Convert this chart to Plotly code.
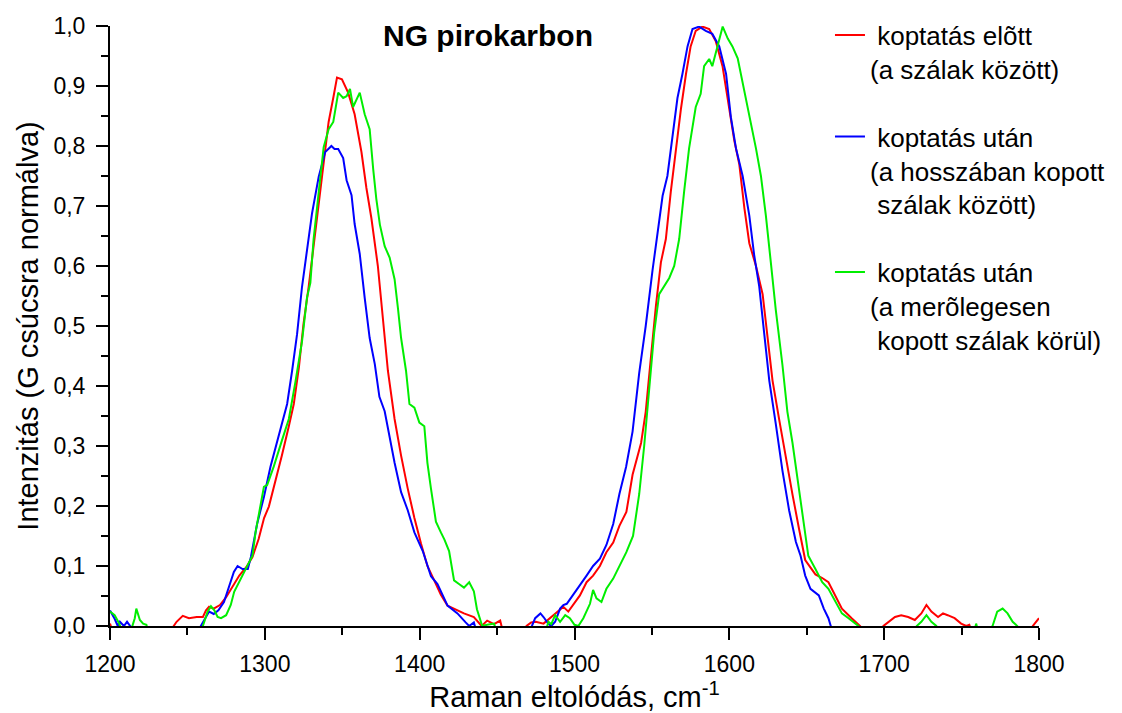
import plotly.graph_objects as go

red_x = [1200, 1202, 1238, 1241, 1243, 1247, 1251, 1256, 1260, 1262, 1264, 1267, 1271, 1275, 1279,
         1283.5, 1288, 1292, 1296, 1299.5, 1302.6, 1307, 1311, 1315.5, 1318.7, 1322, 1325, 1328.3,
         1331.5, 1334.8, 1338, 1341.2, 1344.4, 1346.6, 1349.8, 1353.8, 1358, 1362.4, 1365.6, 1368.8,
         1373, 1376.3, 1379.5, 1383.8, 1388, 1392.3, 1396.6, 1400.9, 1405, 1409.4, 1413.7, 1418, 1424,
         1428.6, 1435, 1438, 1440, 1443.6, 1448, 1452, 1454, 1467, 1469, 1472, 1475, 1480, 1486.4,
         1488.6, 1492.8, 1496, 1499, 1503.5, 1507.8, 1512, 1516.4, 1520.6, 1525, 1529, 1533.5, 1537.5,
         1543, 1546, 1549.4, 1552.6, 1555.8, 1559, 1562.2, 1565.5, 1568.7, 1572, 1575, 1578.3, 1582.6,
         1587, 1591.2, 1595.6, 1600, 1603.2, 1606.4, 1609.7, 1612.9, 1617.2, 1621.5, 1624.7, 1627.9,
         1632.2, 1636.5, 1640.8, 1645, 1649, 1655.6, 1660, 1664, 1668.4, 1672.7, 1679, 1684.5, 1687,
         1697, 1699.5, 1702.7, 1707, 1711, 1715.5, 1719.8, 1724, 1727.3, 1730.5, 1734.8, 1738, 1741,
         1745.5, 1749.7, 1753, 1755, 1757, 1794, 1796, 1800]
red_y = [0.004, -0.012, -0.012, 0.0, 0.007, 0.017, 0.013, 0.015, 0.015, 0.026, 0.032, 0.029, 0.035, 0.048, 0.065,
         0.084, 0.098, 0.115, 0.145, 0.18, 0.199, 0.241, 0.284, 0.333, 0.37, 0.431, 0.504, 0.565,
         0.633, 0.70, 0.773, 0.84, 0.883, 0.914, 0.911, 0.889, 0.853, 0.79, 0.73, 0.68,
         0.60, 0.516, 0.425, 0.345, 0.284, 0.229, 0.18, 0.137, 0.10, 0.076, 0.052, 0.034, 0.027,
         0.021, 0.015, 0.006, 0.0, 0.009, 0.003, 0.009, -0.012, -0.012, 0.0, 0.006, 0.007, 0.004, 0.018,
         0.024, 0.032, 0.024, 0.035, 0.051, 0.073, 0.084, 0.10, 0.123, 0.139, 0.167, 0.19, 0.252,
         0.305, 0.357, 0.449, 0.534, 0.606, 0.645, 0.724, 0.796, 0.861, 0.92, 0.966, 0.992, 0.999,
         0.995, 0.975, 0.933, 0.861, 0.809, 0.77, 0.697, 0.638, 0.60, 0.553, 0.475, 0.409,
         0.344, 0.278, 0.219, 0.162, 0.110, 0.086, 0.08, 0.073, 0.051, 0.029, 0.013, 0.0, -0.012,
         -0.012, 0.0, 0.007, 0.015, 0.018, 0.015, 0.01, 0.021, 0.035, 0.024, 0.015, 0.021, 0.018,
         0.013, 0.004, 0.0, 0.002, -0.012, -0.012, 0.0, 0.013]

blue_x = [1200, 1203, 1205, 1206.4, 1209, 1211, 1213, 1215, 1256, 1258.6, 1260.7, 1264, 1267, 1270, 1273.6,
          1277, 1280, 1282.4, 1285.6, 1289, 1291, 1295, 1299.4, 1303.6, 1309, 1314.4, 1317.6, 1320.8,
          1324, 1327.3, 1330.5, 1334.8, 1339, 1343, 1345, 1347.4, 1350.6, 1352.8, 1356, 1358, 1361.3,
          1364.5, 1367.7, 1371, 1374, 1377.4, 1380.6, 1383.8, 1388, 1392.3, 1396.6, 1402, 1407.3,
          1411.5, 1418, 1424.4, 1429.7, 1432, 1435, 1437, 1470, 1472.5, 1474.6, 1478, 1480, 1483, 1485,
          1487.5, 1490.7, 1492.8, 1495, 1499, 1503.5, 1507.8, 1512, 1516.4, 1520.6, 1525, 1529, 1533.3,
          1537.5, 1541.8, 1546, 1550.4, 1553.6, 1556.9, 1560, 1563.3, 1566.5, 1569.7, 1573, 1576.2,
          1580.5, 1584.8, 1589, 1593.5, 1597.9, 1601, 1604.3, 1608.6, 1612.9, 1616, 1619.3, 1622.5,
          1625.8, 1630, 1634.3, 1638.6, 1643, 1646, 1649, 1652.4, 1657.8, 1661, 1664, 1665.5, 1668, 1800]
blue_y = [0.026, 0.012, 0.0, 0.007, 0.0, 0.007, 0.0, -0.012, -0.012, 0.0, 0.01, 0.024, 0.02, 0.026, 0.04,
          0.065, 0.09, 0.10, 0.095, 0.095, 0.115, 0.17, 0.215, 0.265, 0.32, 0.37, 0.425, 0.486,
          0.565, 0.627, 0.688, 0.749, 0.79, 0.80, 0.795, 0.795, 0.78, 0.743, 0.718, 0.67, 0.62,
          0.547, 0.48, 0.437, 0.382, 0.358, 0.315, 0.272, 0.223, 0.193, 0.156, 0.125, 0.083,
          0.07, 0.034, 0.021, 0.006, 0.0, 0.006, -0.012, -0.012, 0.0, 0.013, 0.021, 0.015, 0.004, 0.0,
          0.007, 0.029, 0.035, 0.037, 0.051, 0.068, 0.084, 0.10, 0.112, 0.135, 0.17, 0.22, 0.265,
          0.324, 0.422, 0.50, 0.593, 0.658, 0.717, 0.75, 0.815, 0.88, 0.92, 0.966, 0.995,
          0.999, 0.992, 0.987, 0.966, 0.92, 0.848, 0.796, 0.75, 0.684, 0.619, 0.566, 0.488,
          0.409, 0.337, 0.259, 0.193, 0.14, 0.117, 0.084, 0.062, 0.051, 0.029, 0.013, 0.0, -0.012, -0.012]

green_x = [1200, 1203, 1206, 1208, 1213, 1215, 1216, 1217, 1219.3, 1221.4, 1223.5, 1225, 1258, 1260, 1261,
           1263, 1265.2, 1267.4, 1269.5, 1271.7, 1275, 1278, 1280.2, 1283.4, 1286.6, 1289.8, 1292, 1294,
           1299.4, 1301.5, 1305.8, 1311, 1315.5, 1319.7, 1324, 1327.2, 1329.4, 1331.5, 1334.8, 1338,
           1341.2, 1344.2, 1347.4, 1350.6, 1352.8, 1355, 1357, 1359.2, 1361.3, 1364.5, 1367.7, 1370, 1372,
           1374.3, 1377.4, 1380.6, 1383.8, 1386, 1388, 1391.2, 1393.4, 1396.6, 1399.8, 1403, 1405, 1407.3,
           1410.5, 1413.7, 1416, 1419, 1422.2, 1425.4, 1428.6, 1432, 1435, 1437, 1440.4, 1443.6, 1448, 1450,
           1481, 1483.2, 1485, 1487.5, 1490.7, 1494, 1497, 1500, 1502.5, 1505.7, 1510, 1512, 1514.2, 1517.4,
           1520.6, 1525, 1529.2, 1533.5, 1537.8, 1541.8, 1545, 1548.3, 1551.5, 1554.7, 1558, 1561.2, 1564.4,
           1567.6, 1570.8, 1574, 1578.3, 1581.5, 1583.7, 1587, 1589, 1592.5, 1595.7, 1599, 1602, 1605.4,
           1607.5, 1610.7, 1614, 1617.2, 1620.4, 1623.6, 1626.8, 1630, 1634.3, 1637.5, 1640.8, 1644, 1647.2,
           1651, 1655.6, 1660, 1664, 1668.4, 1672.7, 1677, 1681, 1683.4, 1686, 1719, 1721, 1724, 1727.3,
           1730.5, 1733.7, 1736, 1758, 1759.4, 1761, 1768, 1770, 1773, 1776.5, 1779.7, 1783, 1786, 1788, 1800]
green_y = [0.024, 0.018, 0.004, -0.012, -0.012, 0.004, 0.013, 0.029, 0.01, 0.004, 0.002, -0.012, -0.012, 0.0, 0.007,
           0.024, 0.033, 0.026, 0.015, 0.013, 0.018, 0.035, 0.057, 0.073, 0.09, 0.106, 0.117, 0.156,
           0.232, 0.235, 0.266, 0.309, 0.345, 0.406, 0.474, 0.547, 0.572, 0.645, 0.724, 0.798,
           0.828, 0.84, 0.889, 0.88, 0.883, 0.895, 0.865, 0.877, 0.889, 0.853, 0.828, 0.761, 0.712,
           0.669, 0.633, 0.614, 0.578, 0.529, 0.48, 0.425, 0.37, 0.364, 0.339, 0.333, 0.272, 0.229,
           0.174, 0.156, 0.144, 0.125, 0.076, 0.07, 0.064, 0.073, 0.058, 0.028, 0.0, 0.002, 0.004, -0.012,
           -0.012, 0.007, 0.003, 0.018, 0.007, 0.018, 0.013, 0.002, 0.0, 0.013, 0.037, 0.06, 0.046, 0.04,
           0.062, 0.079, 0.10, 0.123, 0.15, 0.22, 0.30, 0.40, 0.49, 0.553, 0.566, 0.58, 0.60,
           0.645, 0.724, 0.796, 0.865, 0.887, 0.933, 0.945, 0.933, 0.966, 0.999, 0.979, 0.966, 0.946,
           0.92, 0.88, 0.841, 0.796, 0.75, 0.684, 0.606, 0.527, 0.435, 0.357, 0.305, 0.246, 0.18,
           0.117, 0.095, 0.073, 0.062, 0.04, 0.021, 0.013, 0.004, 0.0, -0.012, -0.012, 0.0, 0.007, 0.018,
           0.007, 0.0, -0.012, -0.012, 0.004, -0.012, -0.012, 0.0, 0.024, 0.029, 0.021, 0.007, 0.0, -0.012, -0.012]

series_names = [
    "\u00a0koptatás elõtt<br>(a szálak között)",
    "\u00a0koptatás után<br>(a hosszában kopott<br>\u00a0szálak között)",
    "\u00a0koptatás után<br>(a merõlegesen<br>\u00a0kopott szálak körül)",
]
series_colors = ["#FF0000", "#0000FF", "#00EE00"]

FONT = "Liberation Sans, Arial, sans-serif"

fig = go.Figure()
for i, (xs, ys) in enumerate([(red_x, red_y), (blue_x, blue_y), (green_x, green_y)]):
    fig.add_trace(go.Scatter(
        x=xs, y=ys, mode="lines", name=series_names[i], legendgroup=f"g{i}",
        line=dict(color=series_colors[i], width=2),
    ))

axis_common = dict(
    showline=True, linewidth=2, linecolor="black", mirror=False,
    ticks="outside", ticklen=12, tickwidth=2, tickcolor="black",
    showgrid=False, zeroline=False,
    tickfont=dict(family=FONT, size=23, color="black"),
)

fig.update_layout(
    width=1122, height=713,
    margin=dict(l=110, r=77, t=26, b=82),
    paper_bgcolor="white", plot_bgcolor="white",
    separators=", ",
    font=dict(family=FONT, color="black"),
    xaxis=dict(
        range=[1200, 1800], dtick=100, tick0=1200, ticklabelstandoff=4,
        minor=dict(ticks="outside", ticklen=7, tickwidth=2, tickcolor="black", dtick=50),
        title=dict(text="Raman eltolódás, cm<sup>-1</sup>", font=dict(family=FONT, size=29), standoff=4),
        **axis_common,
    ),
    yaxis=dict(
        range=[0, 1.0], dtick=0.1, tick0=0, tickformat=".1f", ticklabelstandoff=6,
        minor=dict(ticks="outside", ticklen=7, tickwidth=2, tickcolor="black", dtick=0.05),
        title=dict(text="Intenzitás (G csúcsra normálva)", font=dict(family=FONT, size=29), standoff=6),
        **axis_common,
    ),
    showlegend=True,
    legend=dict(
        x=0.775, y=1.024, xanchor="left", yanchor="top",
        font=dict(family=FONT, size=26, color="black"),
        bgcolor="rgba(0,0,0,0)", borderwidth=0,
        traceorder="grouped", tracegroupgap=31, valign="top",
    ),
    annotations=[dict(
        text="<b>NG pirokarbon</b>", x=0.407, y=1.0, xref="paper", yref="paper",
        xanchor="center", yanchor="bottom", yshift=-28, showarrow=False,
        font=dict(family=FONT, size=30, color="black"),
    )],
)

fig.write_html("out.html")
